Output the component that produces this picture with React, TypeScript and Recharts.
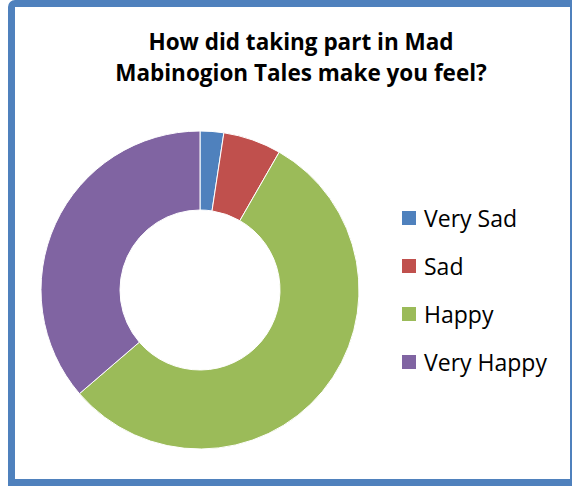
import React from 'react';
import { PieChart, Pie, Cell, Legend } from 'recharts';

// Survey answers, share of responses
const categories = ['Very Sad', 'Sad', 'Happy', 'Very Happy'];
const shares = [2.4, 5.9, 55.4, 36.3];
const colors = ['#4f81bd', '#c0504d', '#9bbb59', '#8064a2'];
const titleLines = ['How did taking part in Mad', 'Mabinogion Tales make you feel?'];

const FONT = '"Open Sans", "Noto Sans", sans-serif';

const data = categories.map((name, i) => ({ name, value: shares[i] }));

// Custom legend: square swatch + label, stacked vertically
const renderLegend = () => (
  <div style={{ fontFamily: FONT }}>
    {categories.map((name, i) => (
      <div key={name} style={{ display: 'flex', alignItems: 'center', height: 48 }}>
        <div style={{ width: 14, height: 14, background: colors[i], marginRight: 8 }} />
        <span style={{ fontSize: 23, color: '#000' }}>{name}</span>
      </div>
    ))}
  </div>
);

export default function App() {
  return (
    <div style={{ position: 'absolute', left: 0, top: 0, width: 572, height: 486, overflow: 'hidden', background: '#fff' }}>
      {/* blue chart frame, clipped on the right like the source */}
      <div
        style={{
          position: 'absolute',
          left: 8,
          top: 0,
          width: 569,
          height: 486,
          boxSizing: 'border-box',
          border: '7px solid #4f81bd',
          borderTopLeftRadius: 7,
          background: '#fff',
        }}
      />
      <div
        style={{
          position: 'absolute',
          left: 16,
          top: 26,
          width: 570,
          textAlign: 'center',
          fontFamily: FONT,
          fontWeight: 700,
          fontSize: 22.5,
          lineHeight: '31px',
          color: '#000',
        }}
      >
        {titleLines.map((line) => (
          <div key={line}>{line}</div>
        ))}
      </div>
      <div style={{ position: 'absolute', left: 0, top: 0 }}>
        <PieChart width={572} height={486} margin={{ top: 0, right: 0, bottom: 0, left: 0 }}>
          <Pie
            data={data}
            dataKey="value"
            nameKey="name"
            cx={200}
            cy={290}
            innerRadius={80}
            outerRadius={159}
            startAngle={90}
            endAngle={-270}
            stroke="#ffffff"
            strokeWidth={1}
            isAnimationActive={false}
          >
            {data.map((entry, index) => (
              <Cell key={`cell-${index}`} fill={colors[index]} />
            ))}
          </Pie>
          <Legend
            layout="vertical"
            content={renderLegend}
            wrapperStyle={{ left: 402, top: 194, width: 170 }}
          />
        </PieChart>
      </div>
    </div>
  );
}
